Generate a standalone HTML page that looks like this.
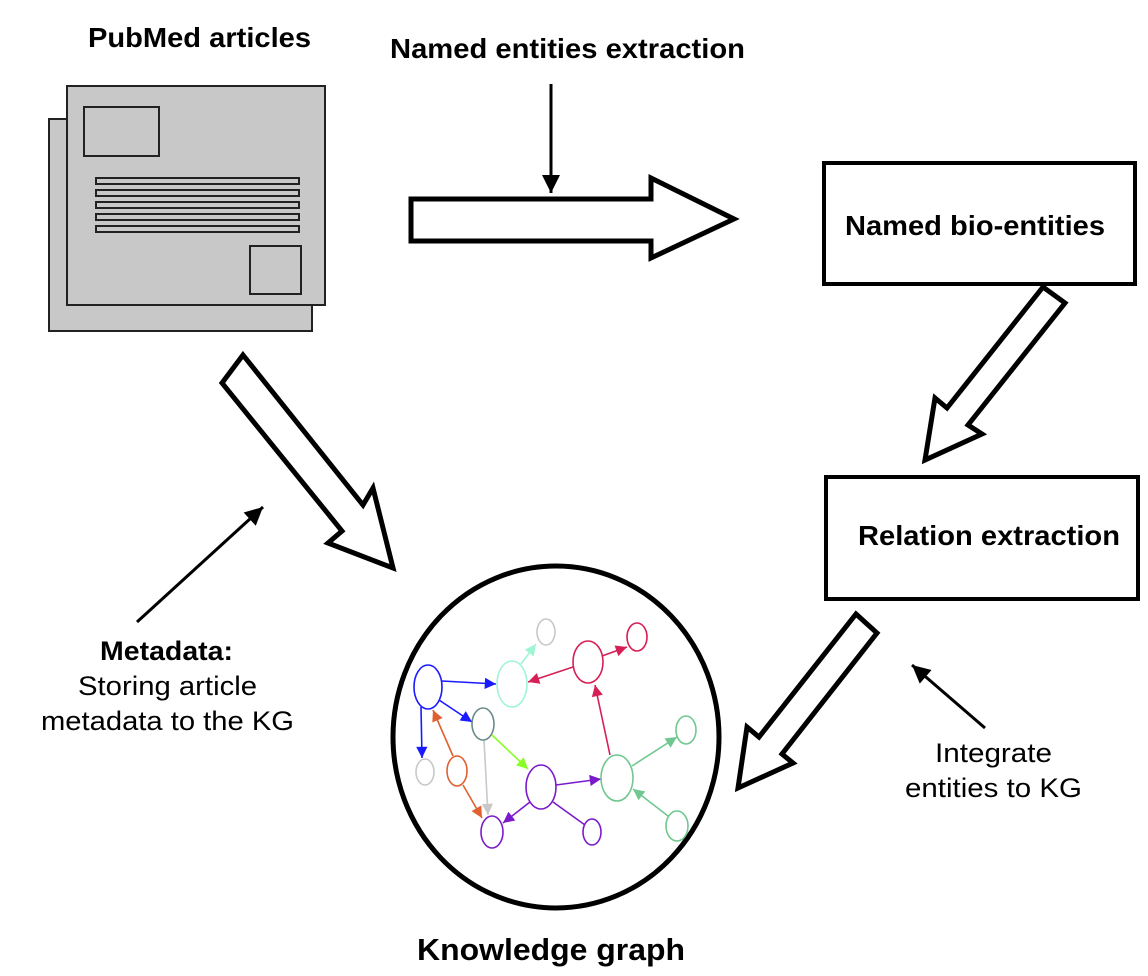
<!DOCTYPE html>
<html><head><style>html,body{margin:0;padding:0;background:#fff}svg{display:block}</style></head>
<body>
<svg width="1148" height="976" viewBox="0 0 1148 976" xmlns="http://www.w3.org/2000/svg" font-family="Liberation Sans, Arial, sans-serif">
<defs>
<marker id="ab" viewBox="0 0 10 10" refX="10" refY="5" markerWidth="7" markerHeight="6" orient="auto" markerUnits="strokeWidth"><path d="M0,0 L10,5 L0,10z" fill="#000"/></marker>
</defs>
<!-- documents -->
<rect x="49" y="119" width="263" height="212" fill="#c8c8c8" stroke="#222" stroke-width="2"/>
<rect x="67" y="86" width="258" height="219" fill="#c8c8c8" stroke="#222" stroke-width="2"/>
<rect x="84" y="107" width="75" height="49" fill="none" stroke="#222" stroke-width="2"/>
<g fill="none" stroke="#222" stroke-width="2">
<rect x="96" y="178" width="203" height="6"/><rect x="96" y="190" width="203" height="6"/><rect x="96" y="202" width="203" height="6"/><rect x="96" y="214" width="203" height="6"/><rect x="96" y="226" width="203" height="6"/>
</g>
<rect x="250" y="246" width="51" height="48" fill="none" stroke="#222" stroke-width="2"/>
<!-- texts -->
<g font-weight="bold" fill="#000">
<text x="88" y="47" font-size="28" textLength="223" lengthAdjust="spacingAndGlyphs">PubMed articles</text>
<text x="390" y="58" font-size="28" textLength="355" lengthAdjust="spacingAndGlyphs">Named entities extraction</text>
<text x="845" y="235" font-size="28" textLength="260" lengthAdjust="spacingAndGlyphs">Named bio-entities</text>
<text x="858" y="545" font-size="28" textLength="262" lengthAdjust="spacingAndGlyphs">Relation extraction</text>
<text x="100" y="660" font-size="27" textLength="133" lengthAdjust="spacingAndGlyphs">Metadata:</text>
<text x="417" y="960" font-size="31" textLength="268" lengthAdjust="spacingAndGlyphs">Knowledge graph</text>
</g>
<g fill="#000" font-size="27">
<text x="78" y="695" textLength="179" lengthAdjust="spacingAndGlyphs">Storing article</text>
<text x="41" y="730" textLength="253" lengthAdjust="spacingAndGlyphs">metadata to the KG</text>
<text x="935" y="762" textLength="117" lengthAdjust="spacingAndGlyphs">Integrate</text>
<text x="905" y="797" textLength="177" lengthAdjust="spacingAndGlyphs">entities to KG</text>
</g>
<!-- boxes -->
<rect x="824" y="163" width="311" height="121" fill="none" stroke="#000" stroke-width="4"/>
<rect x="826" y="477" width="312" height="122" fill="none" stroke="#000" stroke-width="4"/>
<!-- hollow arrows -->
<g fill="#fff" stroke="#000" stroke-width="5" stroke-linejoin="miter">
<polygon points="411,199 651,199 651,178 734,219 651,258 651,241 411,241"/>
<polygon points="243,355 363,505 373,488 393,568 328,543 342,531 222,383"/>
<polygon points="1043,287 1065,303 968,425 982,434 925,460 935,398 947,408"/>
<polygon points="856,614 877,633 782,754 793,763 738,788 747,727 759,737"/>
</g>
<!-- thin arrows -->
<g stroke="#000" stroke-width="3" fill="none">
<line x1="551" y1="84" x2="551" y2="193" marker-end="url(#ab)"/>
<line x1="137" y1="622" x2="263" y2="507" marker-end="url(#ab)"/>
<line x1="985" y1="728" x2="912" y2="665" marker-end="url(#ab)"/>
</g>
<!-- big circle -->
<ellipse cx="556" cy="737" rx="163" ry="171" fill="none" stroke="#000" stroke-width="5"/>
<defs>
<marker id="m1" viewBox="0 0 10 10" refX="10" refY="5" markerWidth="9" markerHeight="7" orient="auto"><path d="M0,0L10,5L0,10z" fill="#1a1aff"/></marker>
<marker id="m2" viewBox="0 0 10 10" refX="10" refY="5" markerWidth="9" markerHeight="7" orient="auto"><path d="M0,0L10,5L0,10z" fill="#d61f55"/></marker>
<marker id="m3" viewBox="0 0 10 10" refX="10" refY="5" markerWidth="9" markerHeight="7" orient="auto"><path d="M0,0L10,5L0,10z" fill="#a0f5d5"/></marker>
<marker id="m4" viewBox="0 0 10 10" refX="10" refY="5" markerWidth="9" markerHeight="7" orient="auto"><path d="M0,0L10,5L0,10z" fill="#e06030"/></marker>
<marker id="m5" viewBox="0 0 10 10" refX="10" refY="5" markerWidth="9" markerHeight="7" orient="auto"><path d="M0,0L10,5L0,10z" fill="#c8c8c8"/></marker>
<marker id="m6" viewBox="0 0 10 10" refX="10" refY="5" markerWidth="9" markerHeight="7" orient="auto"><path d="M0,0L10,5L0,10z" fill="#88ff22"/></marker>
<marker id="m7" viewBox="0 0 10 10" refX="10" refY="5" markerWidth="9" markerHeight="7" orient="auto"><path d="M0,0L10,5L0,10z" fill="#7a1acc"/></marker>
<marker id="m8" viewBox="0 0 10 10" refX="10" refY="5" markerWidth="9" markerHeight="7" orient="auto"><path d="M0,0L10,5L0,10z" fill="#70c890"/></marker>
</defs>
<g stroke-width="1.6" fill="none">
<line x1="442" y1="681" x2="496" y2="684" stroke="#1a1aff" marker-end="url(#m1)"/>
<line x1="439" y1="700" x2="472" y2="722" stroke="#1a1aff" marker-end="url(#m1)"/>
<line x1="421" y1="707" x2="422" y2="758" stroke="#1a1aff" marker-end="url(#m1)"/>
<line x1="521" y1="664" x2="536" y2="644" stroke="#a0f5d5" marker-end="url(#m3)"/>
<line x1="573" y1="667" x2="528" y2="682" stroke="#d61f55" marker-end="url(#m2)"/>
<line x1="602" y1="656" x2="627" y2="647" stroke="#d61f55" marker-end="url(#m2)"/>
<line x1="610" y1="755" x2="595" y2="685" stroke="#d61f55" marker-end="url(#m2)"/>
<line x1="453" y1="756" x2="433" y2="710" stroke="#e06030" marker-end="url(#m4)"/>
<line x1="463" y1="785" x2="482" y2="818" stroke="#e06030" marker-end="url(#m4)"/>
<line x1="484" y1="740" x2="488" y2="815" stroke="#c8c8c8" marker-end="url(#m5)"/>
<line x1="492" y1="735" x2="528" y2="769" stroke="#88ff22" marker-end="url(#m6)"/>
<line x1="556" y1="785" x2="601" y2="779" stroke="#7a1acc" marker-end="url(#m7)"/>
<line x1="530" y1="802" x2="503" y2="823" stroke="#7a1acc" marker-end="url(#m7)"/>
<line x1="553" y1="802" x2="585" y2="825" stroke="#7a1acc"/>
<line x1="632" y1="766" x2="677" y2="737" stroke="#70c890" marker-end="url(#m8)"/>
<line x1="668" y1="816" x2="633" y2="789" stroke="#70c890" marker-end="url(#m8)"/>
</g>
<g fill="#fff" stroke-width="1.6">
<ellipse cx="428" cy="687" rx="14" ry="22" stroke="#1a1aff"/>
<ellipse cx="512" cy="684" rx="15" ry="23" stroke="#a0f5d5"/>
<ellipse cx="546" cy="632" rx="9" ry="13" stroke="#c8c8c8"/>
<ellipse cx="588" cy="662" rx="15" ry="21" stroke="#d61f55"/>
<ellipse cx="637" cy="637" rx="10" ry="14" stroke="#d61f55"/>
<ellipse cx="483" cy="724" rx="11" ry="16" stroke="#6a8a8a"/>
<ellipse cx="425" cy="772" rx="9" ry="13" stroke="#c8c8c8"/>
<ellipse cx="457" cy="771" rx="10" ry="15" stroke="#e06030"/>
<ellipse cx="541" cy="787" rx="15" ry="22" stroke="#7a1acc"/>
<ellipse cx="492" cy="832" rx="11" ry="16" stroke="#7a1acc"/>
<ellipse cx="592" cy="832" rx="9" ry="13" stroke="#7a1acc"/>
<ellipse cx="617" cy="778" rx="16" ry="23" stroke="#70c890"/>
<ellipse cx="686" cy="730" rx="10" ry="14" stroke="#70c890"/>
<ellipse cx="677" cy="826" rx="11" ry="15" stroke="#70c890"/>
</g>
</svg>
</body></html>
